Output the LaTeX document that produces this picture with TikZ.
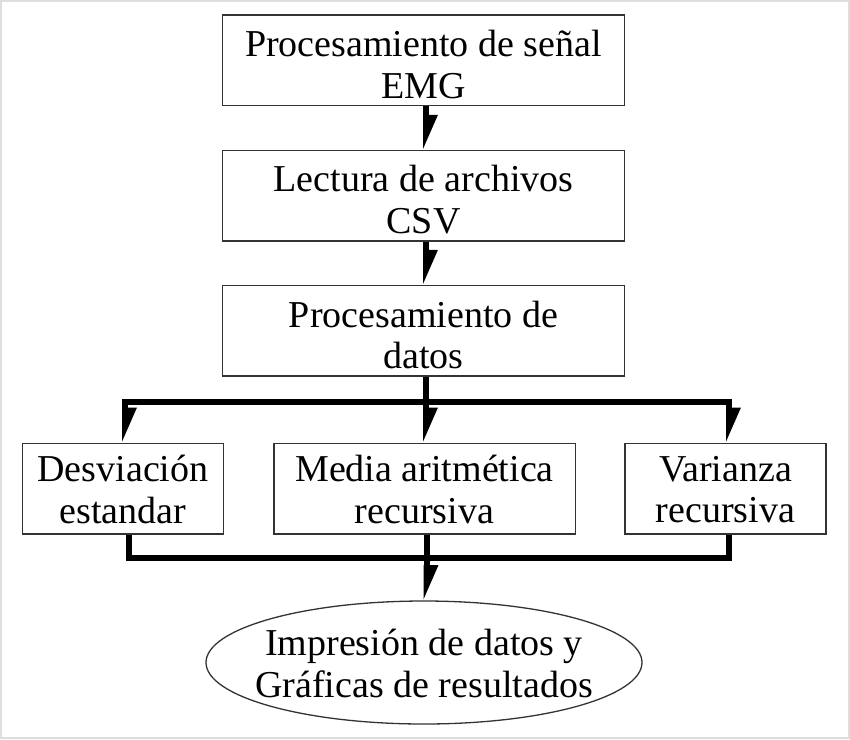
\documentclass[tikz,border=0pt]{standalone}
\usepackage{fontspec}
\setmainfont{Liberation Serif}
\usetikzlibrary{arrows.meta,shapes.geometric,calc}
\begin{document}
\begin{tikzpicture}[x=1pt,y=-1pt,
  box/.style={draw=black!80, line width=1.3pt, rectangle, inner sep=0pt},
  txt/.style={inner sep=0pt, align=center, font=\fontsize{38}{41.5}\selectfont},
  conn/.style={line width=6pt, black},
  bus/.style={line width=6pt, black, line cap=rect},
  arr/.style={line width=6pt, black, -{Triangle[harpoon, length=28pt, width=22pt]}, shorten >=-0.5pt}]
\useasboundingbox (0,0) rectangle (850,739);
\draw[black!13, line width=2pt] (1,1) rectangle (849,738);

\node[box, minimum width=401.6pt, minimum height=90.7pt] (b1) at (423.5,60.3) {};
\node[box, minimum width=401.6pt, minimum height=90.3pt] (b2) at (423.5,195.8) {};
\node[box, minimum width=401.6pt, minimum height=90.3pt] (b3) at (423.5,330.8) {};
\node[box, minimum width=200.5pt, minimum height=90.7pt] (b4) at (123,488.7) {};
\node[box, minimum width=301.3pt, minimum height=90.7pt] (b5) at (424.5,488.7) {};
\node[box, minimum width=201pt, minimum height=90.7pt] (b6) at (725.5,488.7) {};
\node[box, ellipse, minimum width=436pt, minimum height=123pt] (e) at (424,662.5) {};

\node[txt] (t1) at ($(b1.center)+(0,4)$) {Procesamiento de señal\\EMG};
\node[txt] (t2) at ($(b2.center)+(0,4)$) {Lectura de archivos\\CSV};
\node[txt] (t3) at ($(b3.center)+(0,4)$) {Procesamiento de\\datos};
\node[txt] (t4) at ($(b4.center)+(0,1)$) {Desviación\\estandar};
\node[txt] (t5) at ($(b5.center)+(0,1)$) {Media aritmética\\recursiva};
\node[txt] (t6) at ($(b6.center)+(0,1)$) {Varianza\\recursiva};
\node[txt] (t7) at ($(e.center)+(0,1)$) {Impresión de datos y\\Gráficas de resultados};

% upper connectors
\coordinate (c1) at (426,0);
\draw[arr] (b1.south -| c1) -- (b2.north -| c1);
\draw[arr] (b2.south -| c1) -- (b3.north -| c1);

\coordinate (uL) at (125,401.7);
\coordinate (uM) at (426,401.7);
\coordinate (uR) at (729,401.7);
\draw[conn] (b3.south -| uM) -- (uM);
\draw[bus] (uL) -- (uR);
\draw[arr] (uL) -- (b4.north -| uL);
\draw[arr] (uM) -- (b5.north -| uM);
\draw[arr] (uR) -- (b6.north -| uR);

% lower connectors
\coordinate (lL) at (128.5,558.3);
\coordinate (lM) at (426.5,558.3);
\coordinate (lR) at (729,558.3);
\draw[conn] (b4.south -| lL) -- (lL);
\draw[conn] (b5.south -| lM) -- (lM);
\draw[conn] (b6.south -| lR) -- (lR);
\draw[bus] (lL) -- (lR);
\draw[arr] (lM) -- (e.north -| lM);
\end{tikzpicture}
\end{document}
